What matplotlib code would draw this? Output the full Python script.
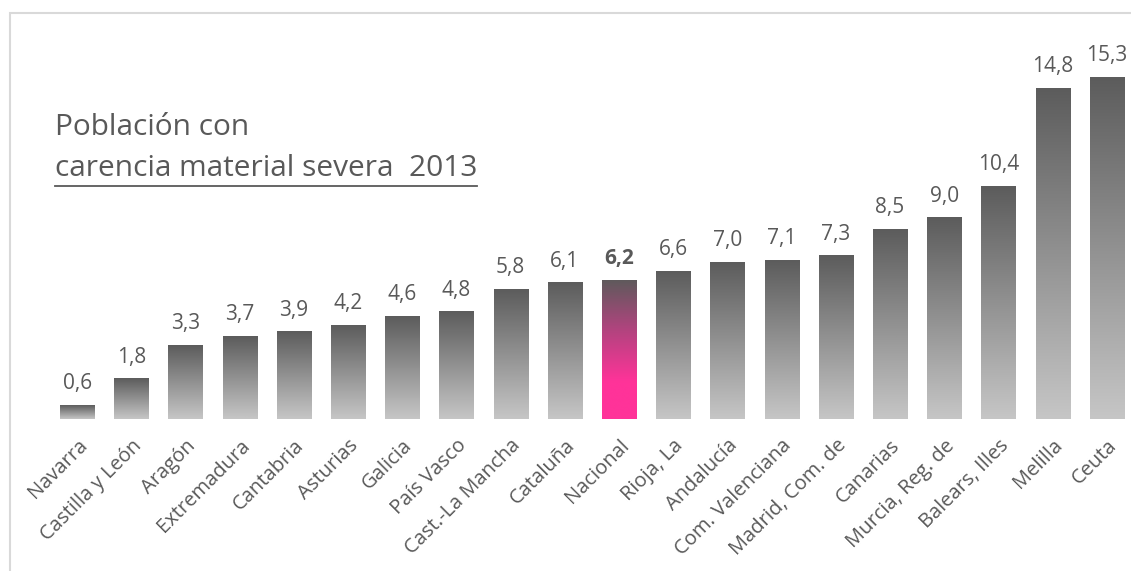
import matplotlib
matplotlib.use("Agg")
import matplotlib.pyplot as plt
import numpy as np
from matplotlib.colors import LinearSegmentedColormap
from matplotlib.patches import Rectangle

categories = ["Navarra", "Castilla y León", "Aragón", "Extremadura", "Cantabria",
              "Asturias", "Galicia", "País Vasco", "Cast.-La Mancha", "Cataluña",
              "Nacional", "Rioja, La", "Andalucía", "Com. Valenciana", "Madrid, Com. de",
              "Canarias", "Murcia, Reg. de", "Balears, Illes", "Melilla", "Ceuta"]
values = [0.6, 1.8, 3.3, 3.7, 3.9, 4.2, 4.6, 4.8, 5.8, 6.1,
          6.2, 6.6, 7.0, 7.1, 7.3, 8.5, 9.0, 10.4, 14.8, 15.3]
highlight = "Nacional"
title_line1 = "Población con"
title_line2 = "carencia material severa  2013"

FONT = ["Open Sans", "DejaVu Sans"]
plt.rcParams['font.family'] = FONT
TXT = "#595959"

W, H = 1131, 571
fig = plt.figure(figsize=(W / 100, H / 100), dpi=100)
fig.patch.set_facecolor("white")

# axes in pixel geometry
left_px, right_px = 50, 1134
base_px = 419
ymax = 17.0
px_per_unit = (419 - 77) / 15.3
top_px = base_px - ymax * px_per_unit
ax = fig.add_axes([left_px / W, (H - base_px) / H, (right_px - left_px) / W, (base_px - top_px) / H])
ax.set_xlim(-0.5, len(categories) - 0.5)
ax.set_ylim(0, ymax)
for s in ax.spines.values():
    s.set_visible(False)
ax.set_yticks([])
ax.tick_params(axis="x", length=0, pad=12)

gray_cmap = LinearSegmentedColormap.from_list("g", ["#c6c6c6", "#5c5c5c"])
pink_cmap = LinearSegmentedColormap.from_list("p", [(0, "#ff3399"), (0.27, "#ff3399"),
                                                    (0.65, "#b0447e"), (1.0, "#5f5a5c")])
grad = np.linspace(0, 1, 256).reshape(-1, 1)
bw = 0.63
for i, (c, v) in enumerate(zip(categories, values)):
    cmap = pink_cmap if c == highlight else gray_cmap
    ax.imshow(grad, cmap=cmap, origin="lower", aspect="auto",
              extent=(i - bw / 2, i + bw / 2, 0, v), interpolation="bicubic", zorder=2)
    ax.annotate(f"{v:.1f}".replace(".", ","), (i, v), xytext=(0, 8), textcoords="offset points",
                ha="center", va="bottom", fontsize=15, color=TXT,
                fontweight="bold" if c == highlight else "normal")
ax.set_xlim(-0.5, len(categories) - 0.5)
ax.set_ylim(0, ymax)

ax.set_xticks(range(len(categories)))
ax.set_xticklabels(categories, rotation=45, ha="right", va="top", rotation_mode="anchor",
                   fontsize=14.5, color=TXT)

# title
fig.text(55 / W, 1 - 135 / H, title_line1, fontsize=21.5, color=TXT, ha="left", va="baseline")
t2 = fig.text(55 / W, 1 - 176 / H, title_line2, fontsize=21.5, color=TXT, ha="left", va="baseline")
fig.canvas.draw()
bb = t2.get_window_extent()
fig.add_artist(plt.Line2D([bb.x0 / W, bb.x1 / W], [(H - 186) / H, (H - 186) / H],
                          color=TXT, lw=1.3, transform=fig.transFigure))

# border
fig.add_artist(Rectangle((10 / W, -0.1), 1.2, 1 - 13 / H + 0.1, transform=fig.transFigure,
                         fill=False, edgecolor="#d9d9d9", lw=1.5))

fig.savefig("out.png", dpi=100, facecolor="white")
